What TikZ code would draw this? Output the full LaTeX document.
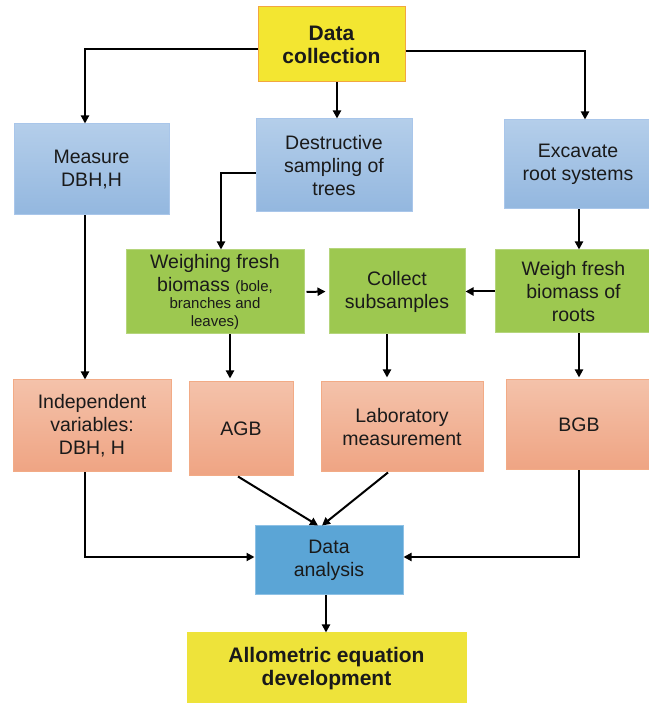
\documentclass[tikz,border=0pt]{standalone}
\usepackage{fontspec}
\setmainfont{Liberation Sans}
\usetikzlibrary{arrows.meta,positioning,calc}
\definecolor{dcYellow}{HTML}{F3E631}
\definecolor{dcBorder}{HTML}{F2A640}
\definecolor{eqYellow}{HTML}{EEE33A}
\definecolor{stepBlueTop}{HTML}{B4CEEA}
\definecolor{stepBlueBot}{HTML}{93B7DF}
\definecolor{stepBlueLine}{HTML}{A9C6EA}
\definecolor{procGreen}{HTML}{9DC850}
\definecolor{procGreenLine}{HTML}{B5D57C}
\definecolor{outTop}{HTML}{F4C2AA}
\definecolor{outBot}{HTML}{EFA483}
\definecolor{outLine}{HTML}{F2AB86}
\definecolor{daBlue}{HTML}{5BA5D6}
\definecolor{daLine}{HTML}{8EC1E5}
\definecolor{txtDark}{HTML}{1A1A1A}

\begin{document}
\begin{tikzpicture}[x=1pt, y=1pt,
    box/.style={draw, line width=1pt, align=center, inner sep=0pt, text=txtDark,
      font=\fontsize{19.5}{23}\selectfont},
    bluebox/.style={box, draw=stepBlueLine, top color=stepBlueTop, bottom color=stepBlueBot},
    greenbox/.style={box, draw=procGreenLine, fill=procGreen},
    salmonbox/.style={box, draw=outLine, top color=outTop, bottom color=outBot},
    flow/.style={-{Triangle[length=8pt,width=8pt]}, line width=2pt, black}]
    \useasboundingbox (0,0) rectangle (648,703);
    % top: data collection
    \node[box, draw=dcBorder, fill=dcYellow, font=\fontsize{21}{23}\selectfont\bfseries,
      minimum width=147, minimum height=75] (dc) at (331.5,658.5) {Data\\collection};
    % blue row
    \node[bluebox, minimum width=155, minimum height=91] (measure) at (91.5,533.5) {Measure\\DBH,H};
    \node[bluebox, minimum width=156, minimum height=93] (destr) at (334,537.5) {Destructive\\sampling of\\trees};
    \node[bluebox, minimum width=148, minimum height=89] (excav) at (578,538.5) {Excavate\\root systems};
    % green row
    \node[greenbox, minimum width=178, minimum height=84] (weighing) at (215,411)
      {Weighing fresh\\biomass {\fontsize{15}{17}\selectfont(bole,}\\[-6pt]%
       {\fontsize{15}{17}\selectfont branches and}\\[-5pt]{\fontsize{15}{17}\selectfont leaves)}};
    \node[greenbox, minimum width=136, minimum height=85] (subs) at (397,411.5) {Collect\\subsamples};
    \node[greenbox, minimum width=157, minimum height=83] (wroots) at (573.5,411.5) {Weigh fresh\\biomass of\\roots};
    % salmon row
    \node[salmonbox, minimum width=158, minimum height=92] (indep) at (92,277) {Independent\\variables:\\DBH, H};
    \node[salmonbox, minimum width=104, minimum height=94] (agb) at (241,274) {AGB};
    \node[salmonbox, minimum width=162, minimum height=90] (lab) at (402,276) {Laboratory\\measurement};
    \node[salmonbox, minimum width=146, minimum height=90] (bgb) at (579,278) {BGB};
    % analysis and result
    \node[box, draw=daLine, fill=daBlue, minimum width=148, minimum height=69] (da) at (329,142.5) {Data\\analysis};
    \node[box, draw=eqYellow, fill=eqYellow, font=\fontsize{21}{23}\selectfont\bfseries,
      minimum width=279, minimum height=72] (alm) at (326.5,34) {Allometric equation\\development};
    % arrows out of data collection
    \draw[flow] ([yshift=-5]dc.west) -| ([xshift=-6.5]measure.north);
    \draw[flow] ([xshift=5.5]dc.south) -- ([xshift=5.5]dc.south |- destr.north);
    \draw[flow] ([yshift=-7]dc.east) -| ([xshift=7]excav.north);
    % into the green row
    \draw[flow] ([yshift=-7.5]destr.west) -| ([xshift=6]weighing.north);
    \draw[flow] ([xshift=1]excav.south) -- ([xshift=1]excav.south |- wroots.north);
    \draw[flow, shorten <=2pt, shorten >=3pt] (weighing.east) -- (subs.west);
    \draw[flow] (wroots.west) -- (subs.east);
    % down to the salmon row
    \draw[flow] ([xshift=-6.5]measure.south) -- ([xshift=-6.5]measure.south |- indep.north);
    \draw[flow, shorten >=3pt] ([xshift=15]weighing.south) -- ([xshift=15]weighing.south |- agb.north);
    \draw[flow, shorten >=4pt] ([xshift=-10]subs.south) -- ([xshift=-10]subs.south |- lab.north);
    \draw[flow, shorten >=2pt] ([xshift=5.5]wroots.south) -- ([xshift=5.5]wroots.south |- bgb.north);
    % into data analysis
    \draw[flow] ([xshift=-7]indep.south) |- ([yshift=3.5]da.west);
    \draw[flow] (bgb.south) |- ([yshift=3.5]da.east);
    \draw[flow] ([xshift=-3]agb.south) -- ([xshift=-11]da.north);
    \draw[flow] ([xshift=-14]lab.south) -- ([xshift=-7]da.north);
    \draw[flow] ([xshift=-3]da.south) -- ([xshift=-3]da.south |- alm.north);
\end{tikzpicture}
\end{document}
